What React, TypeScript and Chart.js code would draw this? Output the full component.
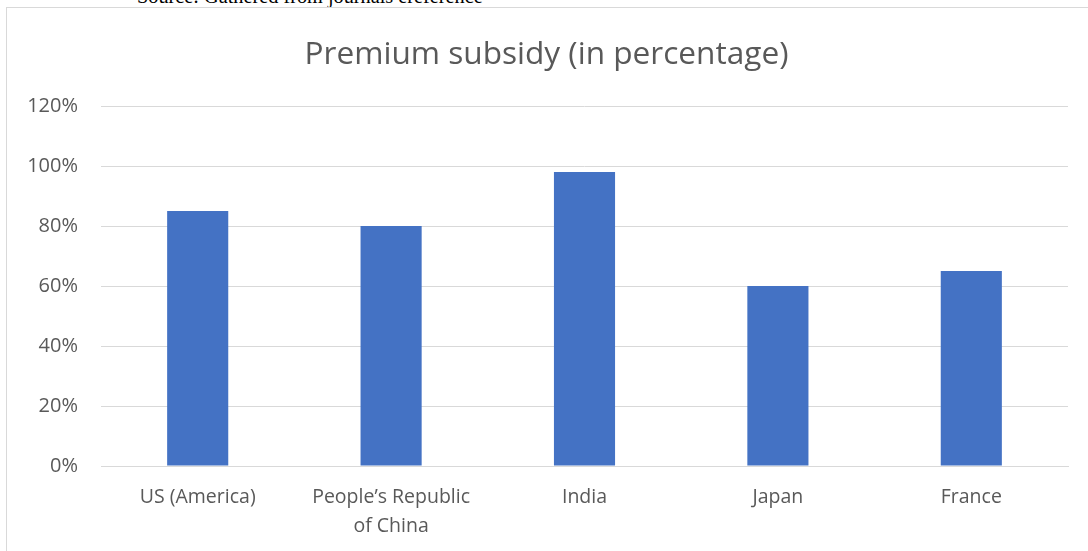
import React, { useEffect, useRef } from "react";
import { Chart, registerables } from "chart.js";

Chart.register(...registerables);

const categories: (string | string[])[] = [
  "US (America)",
  ["People’s Republic", "of China"],
  "India",
  "Japan",
  "France",
];
const subsidyValues: number[] = [85, 80, 98, 60, 65];
const yTickMax = 120;
const yTickStep = 20;
const chartTitle = "Premium subsidy (in percentage)";
const sourceText = "Source: Gathered from journals ereference";

const TEXT = "#595959";
const GRID = "#d9d9d9";
const BAR = "#4472C4";
const FONT = "'Open Sans', 'Noto Sans', sans-serif";

export default function App() {
  const ref = useRef<HTMLCanvasElement | null>(null);

  useEffect(() => {
    if (!ref.current) return;
    const chart = new Chart(ref.current, {
      type: "bar",
      data: {
        labels: categories,
        datasets: [
          {
            label: "Premium subsidy",
            data: subsidyValues,
            backgroundColor: BAR,
            borderWidth: 0,
            barPercentage: 1,
            categoryPercentage: 0.316,
          },
        ],
      },
      options: {
        responsive: false,
        animation: false,
        devicePixelRatio: 1,
        layout: { padding: { left: 25, right: 20, top: 0, bottom: 0 } },
        plugins: {
          legend: { display: false },
          tooltip: { enabled: false },
          title: {
            display: true,
            text: chartTitle,
            color: TEXT,
            font: { family: FONT, size: 31.6, weight: "normal", lineHeight: 1.2 },
            padding: { top: 36, bottom: 32.1 },
          },
        },
        scales: {
          x: {
            grid: { display: false, drawTicks: false },
            border: { display: true, color: GRID },
            ticks: {
              color: TEXT,
              font: { family: FONT, size: 19.5, lineHeight: 1.48 },
              padding: 17,
              maxRotation: 0,
              autoSkip: false,
            },
            afterFit: (s: any) => {
              s.height = 85;
            },
          },
          y: {
            min: 0,
            max: yTickMax,
            grid: { color: GRID, drawTicks: false, lineWidth: 1 },
            border: { display: false },
            ticks: {
              stepSize: yTickStep,
              color: TEXT,
              padding: 23,
              font: { family: FONT, size: 20 },
              callback: (v: any) => `${v}%`,
            },
            afterFit: (s: any) => {
              s.width = 76;
            },
          },
        },
      },
    });
    return () => chart.destroy();
  }, []);

  return (
    <div
      style={{
        position: "fixed",
        left: 0,
        top: 0,
        width: 1088,
        height: 551,
        overflow: "hidden",
        background: "#fff",
      }}
    >
      <div
        style={{
          position: "absolute",
          left: 137,
          top: -13.6,
          fontFamily: "'Liberation Serif', 'Times New Roman', serif",
          fontSize: 20.3,
          lineHeight: 1,
          color: "#000",
          whiteSpace: "nowrap",
        }}
      >
        {sourceText}
      </div>
      <div
        style={{
          position: "absolute",
          left: 6,
          top: 7,
          width: 1200,
          height: 700,
          border: `1.5px solid ${GRID}`,
          boxSizing: "border-box",
        }}
      />
      <canvas
        ref={ref}
        width={1088}
        height={551}
        style={{ position: "absolute", left: 0, top: 0, width: 1088, height: 551 }}
      />
    </div>
  );
}
